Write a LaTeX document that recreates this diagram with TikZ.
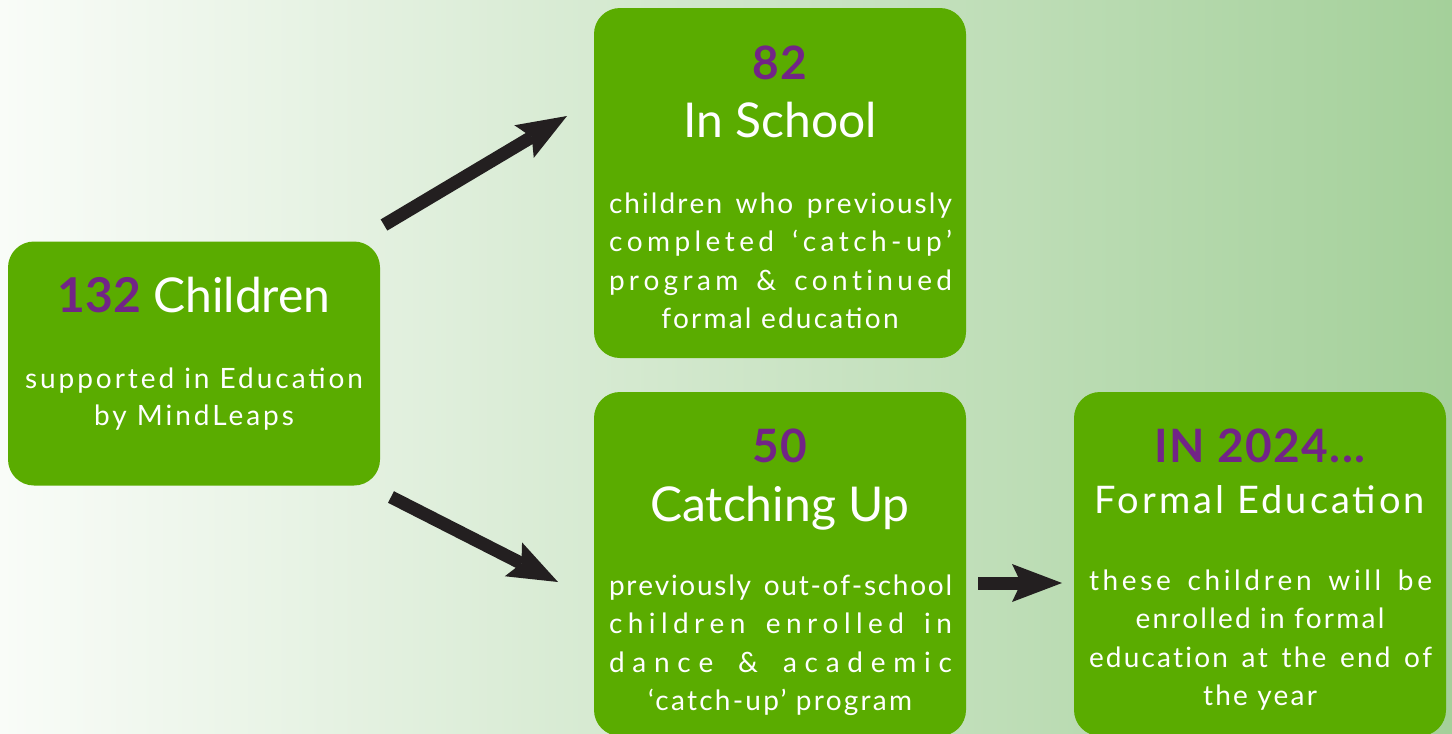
\documentclass[tikz,border=0pt]{standalone}
\usepackage{fontspec}
\setmainfont{Lato}
\usetikzlibrary{arrows.meta}
\definecolor{boxgreen}{RGB}{90,172,0}
\definecolor{numpurple}{RGB}{114,36,135}
\definecolor{arrowblack}{RGB}{35,31,32}
\definecolor{bgleft}{RGB}{249,252,248}
\definecolor{bgright}{RGB}{164,208,154}
% spread the letters of one line over the full text width
\def\spreadaux#1{\ifx#1\relax\else\hskip0pt plus 1fil\relax #1\expandafter\spreadaux\fi}
\def\spreadfirst#1{#1\spreadaux}
\newcommand{\spreadline}[1]{\makebox[343pt][s]{\spreadfirst#1\relax}}
\begin{document}
\begin{tikzpicture}[x=1pt,y=-1pt,
  box/.style={fill=boxgreen, rounded corners=26pt, inner sep=0pt, minimum width=372pt},
  numtxt/.style={text=numpurple, font=\fontsize{46}{50}\selectfont\bfseries\addfontfeatures{LetterSpace=3}, anchor=base, inner sep=0pt},
  headtxt/.style={text=white, font=\fontsize{48}{52}\selectfont, anchor=base, inner sep=0pt},
  subhead/.style={text=white, font=\fontsize{38}{42}\selectfont\addfontfeatures{LetterSpace=8}, anchor=base, inner sep=0pt},
  bodytxt/.style={text=white, font=\fontsize{28}{34}\selectfont\addfontfeatures{LetterSpace=8}, anchor=base, inner sep=0pt},
  widebody/.style={bodytxt, font=\fontsize{28}{34}\selectfont\addfontfeatures{LetterSpace=10.5}},
  bigarrow/.style={draw=arrowblack, line width=13pt, -{Stealth[length=50pt,width=38pt,inset=9pt,line width=0pt]}}
]
\shade[left color=bgleft, right color=bgright] (0,0) rectangle (1452,734);
\useasboundingbox (0,0) rectangle (1452,734);

% boxes
\node[box, minimum height=244pt] (b1) at (194,363.5) {};
\node[box, minimum height=350pt] (b2) at (780,183) {};
\node[box, minimum height=344pt] (b3) at (780,564) {};
\node[box, minimum height=344pt] (b4) at (1260,564) {};

% box 1
\node[headtxt] (t1h) at (194,312) {\textcolor{numpurple}{\bfseries 132} Children};
\node[widebody] (t1a) at (194,388) {supported in Education};
\node[widebody] (t1b) at (194,425) {by MindLeaps};

% box 2
\node[numtxt] (t2n) at (780,79) {82};
\node[headtxt] (t2h) at (780,137) {In School};
\node[bodytxt] (t2a) at (780.5,213) {\spreadline{children~who~previously}};
\node[bodytxt] (t2b) at (780.5,251.5) {\spreadline{completed~‘catch-up’}};
\node[bodytxt] (t2c) at (780.5,290) {\spreadline{program~\&~continued}};
\node[bodytxt] (t2d) at (780,328) {formal education};

% box 3
\node[numtxt] (t3n) at (780,462) {50};
\node[headtxt] (t3h) at (780,521) {Catching Up};
\node[bodytxt] (t3a) at (780.5,595) {\spreadline{previously~out-of-school}};
\node[bodytxt] (t3b) at (780.5,633.5) {\spreadline{children~enrolled~in}};
\node[bodytxt] (t3c) at (780.5,672) {\spreadline{dance~\&~academic}};
\node[bodytxt] (t3d) at (780,710) {‘catch-up’ program};

% box 4
\node[numtxt] (t4n) at (1260,462) {IN 2024...};
\node[subhead] (t4h) at (1260,513) {Formal Education};
\node[bodytxt] (t4a) at (1260.5,590) {\spreadline{these~children~will~be}};
\node[bodytxt] (t4b) at (1260,628) {enrolled in formal};
\node[bodytxt] (t4c) at (1260.5,667) {\spreadline{education~at~the~end~of}};
\node[bodytxt] (t4d) at (1260,705) {the year};

% arrows
\coordinate (a1s) at (384,225);
\coordinate (a1e) at (567,116);
\coordinate (a2s) at (391,497);
\coordinate (a2e) at (558,582);
\coordinate (a3s) at (978,583);
\coordinate (a3e) at (1062,583);
\draw[bigarrow] (a1s) -- (a1e);
\draw[bigarrow] (a2s) -- (a2e);
\draw[bigarrow] (a3s) -- (a3e);
\end{tikzpicture}
\end{document}
